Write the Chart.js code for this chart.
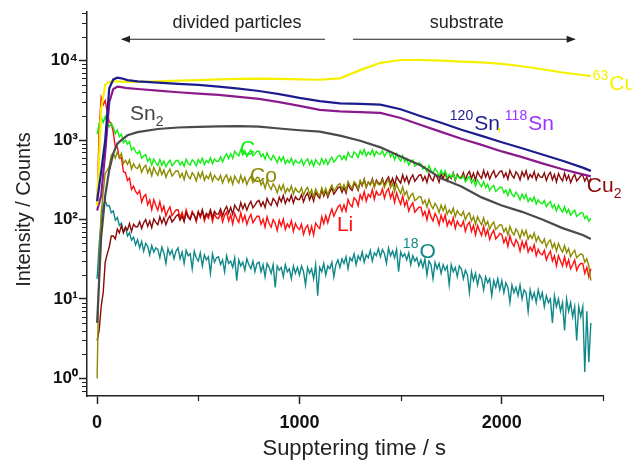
<!DOCTYPE html>
<html>
<head>
<meta charset="utf-8">
<script src="https://cdn.jsdelivr.net/npm/chart.js@4.4.0/dist/chart.umd.min.js"></script>
<style>
  html, body { margin: 0; padding: 0; background: #fff; }
  #wrap { width: 632px; height: 463px; }
</style>
</head>
<body>
<div id="wrap"><canvas id="profile" width="632" height="463"></canvas></div>
<script>
// sputtering time grid (s) for the noisy profiles
var time = [0, 10, 20, 30, 40, 50, 60, 70, 80, 90, 100, 110, 120, 130, 140, 150, 160, 170, 180, 190,
  200, 210, 220, 230, 240, 250, 260, 270, 280, 290, 300, 310, 320, 330, 340, 350, 360, 370, 380, 390,
  400, 410, 420, 430, 440, 450, 460, 470, 480, 490, 500, 510, 520, 530, 540, 550, 560, 570, 580, 590,
  600, 610, 620, 630, 640, 650, 660, 670, 680, 690, 700, 710, 720, 730, 740, 750, 760, 770, 780, 790,
  800, 810, 820, 830, 840, 850, 860, 870, 880, 890, 900, 910, 920, 930, 940, 950, 960, 970, 980, 990,
  1000, 1010, 1020, 1030, 1040, 1050, 1060, 1070, 1080, 1090, 1100, 1110, 1120, 1130, 1140, 1150, 1160, 1170, 1180, 1190,
  1200, 1210, 1220, 1230, 1240, 1250, 1260, 1270, 1280, 1290, 1300, 1310, 1320, 1330, 1340, 1350, 1360, 1370, 1380, 1390,
  1400, 1410, 1420, 1430, 1440, 1450, 1460, 1470, 1480, 1490, 1500, 1510, 1520, 1530, 1540, 1550, 1560, 1570, 1580, 1590,
  1600, 1610, 1620, 1630, 1640, 1650, 1660, 1670, 1680, 1690, 1700, 1710, 1720, 1730, 1740, 1750, 1760, 1770, 1780, 1790,
  1800, 1810, 1820, 1830, 1840, 1850, 1860, 1870, 1880, 1890, 1900, 1910, 1920, 1930, 1940, 1950, 1960, 1970, 1980, 1990,
  2000, 2010, 2020, 2030, 2040, 2050, 2060, 2070, 2080, 2090, 2100, 2110, 2120, 2130, 2140, 2150, 2160, 2170, 2180, 2190,
  2200, 2210, 2220, 2230, 2240, 2250, 2260, 2270, 2280, 2290, 2300, 2310, 2320, 2330, 2340, 2350, 2360, 2370, 2380, 2390,
  2400, 2410, 2420, 2430, 2440];

// time grid for the smoother profiles
var timeSmooth = [0, 20, 40, 60, 80, 100, 120, 150, 200, 300, 400, 500, 600, 700, 800, 900,
  1000, 1100, 1200, 1300, 1400, 1500, 1600, 1700, 1800, 1900, 2000, 2100, 2200, 2300, 2400, 2440];

var cu63 = [150, 2500, 5000, 5400, 5500, 5500, 5400, 5400, 5400, 5500, 5600, 5700, 5800, 5900, 5950, 5900,
  5800, 5750, 6000, 7600, 9400, 10200, 10200, 10000, 9700, 9500, 9100, 8500, 7800, 7100, 6600, 6400];
var sn120 = [170, 400, 1000, 4500, 5800, 6100, 6000, 5700, 5500, 5300, 5100, 4950, 4700, 4450, 4150, 3800,
  3400, 3100, 2900, 2850, 2800, 2450, 2000, 1650, 1350, 1130, 940, 790, 660, 550, 450, 410];
var sn118 = [130, 200, 700, 3000, 4400, 4700, 4650, 4500, 4400, 4200, 4000, 3850, 3720, 3500, 3300, 3000,
  2700, 2400, 2300, 2250, 2200, 1900, 1550, 1270, 1040, 870, 720, 610, 510, 430, 370, 350];
var sn2 = [5, 60, 200, 420, 680, 900, 1000, 1150, 1260, 1380, 1440, 1470, 1490, 1500, 1480, 1400,
  1330, 1280, 1140, 980, 810, 620, 480, 330, 260, 190, 150, 125, 100, 78, 64, 57];

var carbon = [1190, 1600, 1960, 1670, 1980, 1650, 1470, 1630, 1450, 1200, 1340, 1100, 1190, 930, 1000, 890, 960, 750, 800, 710,
  672, 728, 592, 632, 660, 539, 588, 485, 578, 515, 478, 568, 483, 544, 461, 517, 558, 477, 508, 550,
  556, 485, 534, 468, 574, 508, 484, 565, 530, 473, 571, 515, 592, 491, 554, 519, 598, 502, 577, 541,
  542, 615, 532, 610, 673, 584, 676, 587, 726, 668, 633, 759, 650, 734, 621, 695, 748, 636, 675, 725,
  724, 620, 670, 576, 693, 601, 561, 642, 590, 518, 615, 545, 618, 506, 561, 519, 591, 490, 557, 519,
  514, 570, 483, 541, 581, 490, 552, 468, 568, 516, 487, 585, 504, 573, 492, 559, 610, 527, 569, 626,
  643, 569, 633, 563, 699, 626, 603, 710, 672, 604, 732, 660, 759, 630, 706, 657, 754, 630, 720, 671,
  664, 738, 624, 694, 739, 616, 683, 567, 673, 596, 546, 638, 532, 585, 486, 533, 562, 470, 489, 519,
  508, 432, 464, 398, 477, 413, 385, 439, 402, 352, 415, 366, 411, 335, 369, 339, 384, 317, 359, 332,
  326, 357, 298, 328, 348, 288, 319, 265, 315, 280, 258, 301, 252, 278, 231, 255, 269, 226, 238, 255,
  254, 217, 234, 201, 241, 209, 194, 221, 203, 177, 209, 183, 207, 168, 186, 170, 192, 157, 177, 163,
  158, 173, 145, 159, 168, 140, 154, 128, 152, 135, 124, 145, 121, 135, 113, 123, 131, 110, 115, 122,
  121, 103, 111, 95, 104];
var cobalt = [1, 30, 120, 220, 381, 417, 468, 648, 680, 593, 709, 599, 678, 507, 556, 494, 561, 431, 504, 451,
  437, 493, 392, 450, 482, 387, 445, 357, 451, 397, 360, 449, 367, 421, 341, 394, 430, 353, 378, 410,
  407, 339, 382, 318, 408, 351, 325, 388, 358, 306, 387, 335, 398, 312, 356, 326, 384, 304, 360, 328,
  314, 359, 289, 337, 365, 296, 343, 278, 354, 315, 288, 360, 296, 339, 276, 319, 351, 291, 312, 340,
  332, 272, 302, 247, 311, 264, 239, 282, 256, 216, 269, 233, 275, 215, 246, 226, 265, 209, 249, 226,
  220, 251, 202, 235, 254, 206, 237, 191, 242, 215, 197, 251, 210, 246, 204, 242, 271, 227, 248, 272,
  284, 240, 275, 232, 302, 265, 248, 300, 280, 243, 310, 271, 323, 255, 294, 271, 320, 253, 302, 276,
  274, 314, 253, 294, 316, 252, 286, 225, 278, 239, 212, 257, 204, 227, 178, 201, 214, 173, 181, 193,
  194, 158, 175, 143, 179, 151, 137, 160, 145, 122, 152, 129, 150, 117, 132, 119, 139, 109, 129, 117,
  112, 126, 99, 114, 121, 96, 109, 87, 109, 95, 86, 105, 85, 95, 76, 86, 93, 75, 80, 86,
  85, 70, 78, 64, 82, 70, 64, 76, 69, 58, 73, 63, 73, 57, 64, 58, 68, 53, 61, 54,
  50, 57, 45, 52, 55, 44, 50, 40, 50, 43, 39, 47, 38, 43, 34, 38, 41, 33, 35, 37,
  36, 29, 32, 26, 17];
var cu2 = [3, 4, 8, 12, 29, 37, 45, 62, 62, 57, 76, 68, 84, 68, 80, 74, 89, 71, 87, 81,
  81, 94, 77, 91, 100, 82, 96, 79, 102, 92, 86, 108, 90, 105, 86, 101, 111, 93, 100, 110,
  116, 98, 111, 94, 122, 107, 100, 121, 113, 98, 125, 110, 132, 104, 120, 112, 133, 106, 127, 117,
  117, 136, 111, 132, 146, 120, 142, 117, 152, 137, 128, 163, 136, 158, 131, 153, 169, 141, 152, 167,
  174, 147, 167, 142, 184, 161, 151, 184, 171, 149, 191, 167, 201, 159, 184, 170, 202, 161, 193, 179,
  179, 206, 167, 197, 215, 177, 208, 170, 220, 199, 185, 236, 197, 230, 190, 223, 249, 209, 228, 251,
  259, 220, 253, 215, 281, 247, 233, 284, 267, 233, 300, 265, 320, 255, 296, 275, 327, 261, 313, 287,
  285, 329, 268, 315, 345, 282, 331, 270, 348, 312, 288, 364, 301, 349, 284, 331, 365, 304, 328, 359,
  367, 308, 350, 294, 380, 330, 307, 369, 343, 296, 376, 329, 392, 310, 356, 329, 390, 310, 371, 340,
  338, 389, 315, 370, 403, 329, 384, 312, 400, 358, 329, 415, 342, 395, 322, 374, 412, 341, 368, 402,
  409, 342, 387, 323, 416, 359, 333, 399, 368, 316, 399, 347, 411, 323, 369, 339, 400, 316, 376, 343,
  338, 386, 311, 362, 392, 317, 368, 297, 378, 335, 307, 383, 314, 360, 291, 337, 370, 305, 328, 356,
  363, 304, 343, 287, 330];
var lithium = [154, 1380, 3430, 2780, 3140, 2230, 1710, 1620, 1250, 820, 820, 590, 600, 400, 390, 310, 333, 238, 263, 226,
  209, 231, 166, 194, 207, 153, 177, 133, 178, 150, 131, 168, 127, 147, 111, 130, 144, 112, 121, 132,
  133, 106, 123, 98, 133, 111, 101, 127, 114, 94, 125, 106, 131, 96, 115, 104, 127, 94, 118, 105,
  103, 122, 93, 113, 124, 96, 115, 88, 119, 103, 92, 122, 95, 113, 87, 104, 116, 91, 100, 110,
  110, 87, 101, 80, 108, 89, 80, 100, 90, 73, 98, 83, 101, 75, 88, 80, 97, 71, 89, 79,
  75, 87, 65, 78, 85, 66, 82, 64, 90, 82, 77, 108, 89, 112, 91, 114, 135, 110, 126, 144,
  153, 127, 153, 127, 179, 155, 145, 188, 176, 149, 206, 179, 225, 170, 207, 191, 238, 179, 226, 204,
  205, 243, 186, 226, 246, 187, 220, 164, 216, 180, 156, 198, 149, 172, 128, 148, 162, 124, 133, 143,
  143, 112, 127, 99, 132, 108, 96, 119, 106, 86, 113, 94, 114, 83, 97, 86, 105, 77, 95, 85,
  82, 95, 71, 86, 93, 71, 84, 64, 84, 72, 63, 82, 63, 74, 56, 66, 73, 57, 61, 67,
  65, 51, 59, 46, 62, 51, 46, 56, 50, 40, 53, 44, 53, 39, 45, 40, 48, 35, 42, 37,
  36, 41, 31, 36, 40, 30, 35, 26, 35, 30, 26, 34, 26, 31, 24, 27, 31, 23, 26, 28,
  28, 21, 25, 19, 24];
var oxygen18 = [18, 48, 96, 150, 172, 148, 150, 122, 128, 98, 106, 84, 90, 70, 80, 62, 68, 55, 60, 48,
  56, 44, 53, 40, 50, 46, 36, 47, 39, 44, 42, 33, 45, 38, 28, 43, 36, 41, 32, 40,
  44, 32, 39, 28, 41, 35, 37, 24, 40, 33, 30, 38, 26, 36, 31, 34, 21, 37, 29, 33,
  34, 27, 31, 22, 35, 28, 30, 25, 33, 17, 31, 26, 29, 23, 32, 27, 24, 30, 22, 28,
  29, 22, 27, 19, 28, 25, 21, 27, 14, 26, 23, 25, 19, 27, 22, 24, 18, 26, 21, 25,
  20, 26, 22, 15, 25, 21, 24, 18, 27, 11, 25, 22, 28, 20, 26, 24, 29, 19, 27, 31,
  25, 32, 28, 34, 24, 33, 30, 37, 27, 35, 31, 39, 29, 36, 33, 41, 30, 38, 35, 43,
  34, 42, 37, 28, 44, 35, 40, 33, 42, 22, 39, 34, 37, 31, 38, 27, 35, 30, 33, 26,
  31, 25, 32, 20, 30, 27, 18, 29, 24, 28, 21, 27, 23, 26, 15, 27, 22, 25, 19, 26,
  24, 18, 23, 20, 12, 22, 17, 21, 15, 20, 18, 13, 19, 16, 18, 11, 17, 14, 18, 13,
  17, 12, 16, 14, 9, 15, 12, 14, 11, 15, 10, 13, 12, 7, 13, 10, 12, 9, 13, 10,
  12, 8, 11, 9, 10, 5, 11, 8, 10, 7, 9, 4, 10, 7, 9, 6, 8, 3, 8, 6,
  8, 1.2, 7, 1.6, 5];

var xTicks = [0, 1000, 2000];
var xMinorTicks = [500, 1500, 2500];
var yTicks = [1, 10, 100, 1000, 10000];
var yMinorTicks = [0.7, 0.8, 0.9, 2, 3, 4, 5, 6, 7, 8, 9, 20, 30, 40, 50, 60, 70, 80, 90,
  200, 300, 400, 500, 600, 700, 800, 900, 2000, 3000, 4000, 5000, 6000, 7000, 8000, 9000,
  20000, 30000, 40000];

var FONT = 'Arial, "Liberation Sans", Helvetica, sans-serif';
var SUP = ['\u2070', '\u00b9', '\u00b2', '\u00b3', '\u2074'];

// labels written next to the curves: [text, 0 normal / 1 subscript / 2 superscript]
var curveLabels = [
  { parts: [['Sn', 0], ['2', 1]], t: 163, v: 1811, color: '#444444' },
  { parts: [['C', 0]], t: 706, v: 657, color: '#11ee11' },
  { parts: [['Co', 0]], t: 756, v: 301, color: '#8b8b00' },
  { parts: [['Li', 0]], t: 1185, v: 71, color: '#ff1010' },
  { parts: [['18', 2], ['O', 0]], t: 1511, v: 33, color: '#108888' },
  { parts: [['120', 2], ['Sn', 0]], t: 1743, v: 1355, color: '#1c1c8e' },
  { parts: [[',', 0]], t: 1972, v: 1355, color: '#f5f000' },
  { parts: [['118', 2], ['Sn', 0]], t: 2015, v: 1355, color: '#9933ff' },
  { parts: [['63', 2], ['Cu', 0]], t: 2449, v: 4315, color: '#f5f000' },
  { parts: [['Cu', 0], ['2', 1]], t: 2420, v: 219, color: '#8b0a0a' }
];

function points(ts, vs) {
  return ts.map(function (t, i) { return { x: t, y: vs[i] }; });
}

function line(label, ts, vs, color, width) {
  return {
    label: label,
    data: points(ts, vs),
    borderColor: color,
    backgroundColor: color,
    borderWidth: width,
    pointRadius: 0,
    fill: false,
    tension: 0
  };
}

var extras = {
  id: 'extras',
  afterDatasetsDraw: function (chart) {
    var ctx = chart.ctx;
    var xs = chart.scales.x, ys = chart.scales.y;
    var area = chart.chartArea;
    ctx.save();

    // minor ticks
    ctx.strokeStyle = '#222';
    ctx.lineWidth = 1.2;
    ctx.beginPath();
    yMinorTicks.forEach(function (v) {
      var py = Math.round(ys.getPixelForValue(v)) + 0.5;
      if (py < area.top || py > area.bottom) return;
      ctx.moveTo(area.left - 5, py);
      ctx.lineTo(area.left, py);
    });
    xMinorTicks.forEach(function (t) {
      var px = Math.round(xs.getPixelForValue(t)) + 0.5;
      ctx.moveTo(px, area.bottom);
      ctx.lineTo(px, area.bottom + 5);
    });
    ctx.stroke();

    // region arrows
    var ay = ys.getPixelForValue(18600);
    var a1 = xs.getPixelForValue(123), a2 = xs.getPixelForValue(1126);
    var b1 = xs.getPixelForValue(1264), b2 = xs.getPixelForValue(2360);
    ctx.lineWidth = 1.2;
    ctx.beginPath();
    ctx.moveTo(a1, ay); ctx.lineTo(a2, ay);
    ctx.moveTo(b1, ay); ctx.lineTo(b2, ay);
    ctx.stroke();
    ctx.fillStyle = '#222';
    ctx.beginPath();
    ctx.moveTo(a1 - 1, ay); ctx.lineTo(a1 + 8, ay - 3.5); ctx.lineTo(a1 + 8, ay + 3.5); ctx.closePath();
    ctx.moveTo(b2 + 1, ay); ctx.lineTo(b2 - 8, ay - 3.5); ctx.lineTo(b2 - 8, ay + 3.5); ctx.closePath();
    ctx.fill();

    ctx.font = '18px ' + FONT;
    ctx.textAlign = 'center';
    ctx.textBaseline = 'alphabetic';
    var ty = ys.getPixelForValue(25800);
    ctx.fillText('divided particles', xs.getPixelForValue(691), ty);
    ctx.fillText('substrate', xs.getPixelForValue(1827), ty);

    // curve labels
    ctx.textAlign = 'left';
    curveLabels.forEach(function (lab) {
      var x = xs.getPixelForValue(lab.t);
      var y = ys.getPixelForValue(lab.v);
      ctx.fillStyle = lab.color;
      lab.parts.forEach(function (p) {
        var size = p[1] === 0 ? 21 : 14;
        var dy = p[1] === 1 ? 6 : (p[1] === 2 ? -10 : 0);
        ctx.font = size + 'px ' + FONT;
        ctx.fillText(p[0], x, y + dy);
        x += ctx.measureText(p[0]).width + (p[1] === 0 ? 0 : 1);
      });
    });
    ctx.restore();
  }
};

var ctx = document.getElementById('profile').getContext('2d');
Chart.defaults.font.family = FONT;

new Chart(ctx, {
  type: 'line',
  data: {
    datasets: [
      line('120Sn', timeSmooth, sn120, '#1c1c8e', 2.2),
      line('63Cu', timeSmooth, cu63, '#f5f000', 2.2),
      line('118Sn', timeSmooth, sn118, '#8b1a8b', 2.2),
      line('Sn2', timeSmooth, sn2, '#4a4a4a', 2.2),
      line('C', time, carbon, '#11ee11', 1.4),
      line('Co', time, cobalt, '#8b8b00', 1.4),
      line('Cu2', time, cu2, '#8b0a0a', 1.4),
      line('Li', time, lithium, '#ff1010', 1.4),
      line('18O', time, oxygen18, '#108888', 1.4)
    ]
  },
  options: {
    responsive: false,
    animation: false,
    layout: { padding: { top: 12, right: 29, left: 0, bottom: 0 } },
    plugins: {
      legend: { display: false },
      tooltip: { enabled: false }
    },
    scales: {
      x: {
        type: 'linear',
        min: -50,
        max: 2500,
        afterFit: function (s) { s.height = 67; },
        afterBuildTicks: function (s) { s.ticks = xTicks.map(function (v) { return { value: v }; }); },
        grid: { drawOnChartArea: false, tickLength: 8, tickColor: '#222', tickWidth: 1.5 },
        border: { color: '#222', width: 1.5 },
        ticks: {
          color: '#111',
          font: { size: 18, weight: 'bold' },
          padding: 8,
          maxRotation: 0,
          callback: function (v) { return String(v); }
        },
        title: {
          display: true,
          text: '   Supptering time / s',
          color: '#222',
          font: { size: 22 },
          padding: { top: 0, bottom: 1 }
        }
      },
      y: {
        type: 'logarithmic',
        min: 0.61,
        max: 41000,
        afterFit: function (s) { s.width = 87; },
        afterBuildTicks: function (s) { s.ticks = yTicks.map(function (v) { return { value: v }; }); },
        grid: { drawOnChartArea: false, tickLength: 8, tickColor: '#222', tickWidth: 1.5 },
        border: { color: '#222', width: 1.5 },
        ticks: {
          color: '#111',
          font: { size: 17, weight: 'bold' },
          padding: 1,
          callback: function (v) { return '10' + SUP[Math.round(Math.log10(v))]; }
        },
        title: {
          display: true,
          text: 'Intensity / Counts  ',
          color: '#222',
          font: { size: 20 },
          padding: { top: 12, bottom: 0 }
        }
      }
    }
  },
  plugins: [extras]
});
</script>
</body>
</html>
